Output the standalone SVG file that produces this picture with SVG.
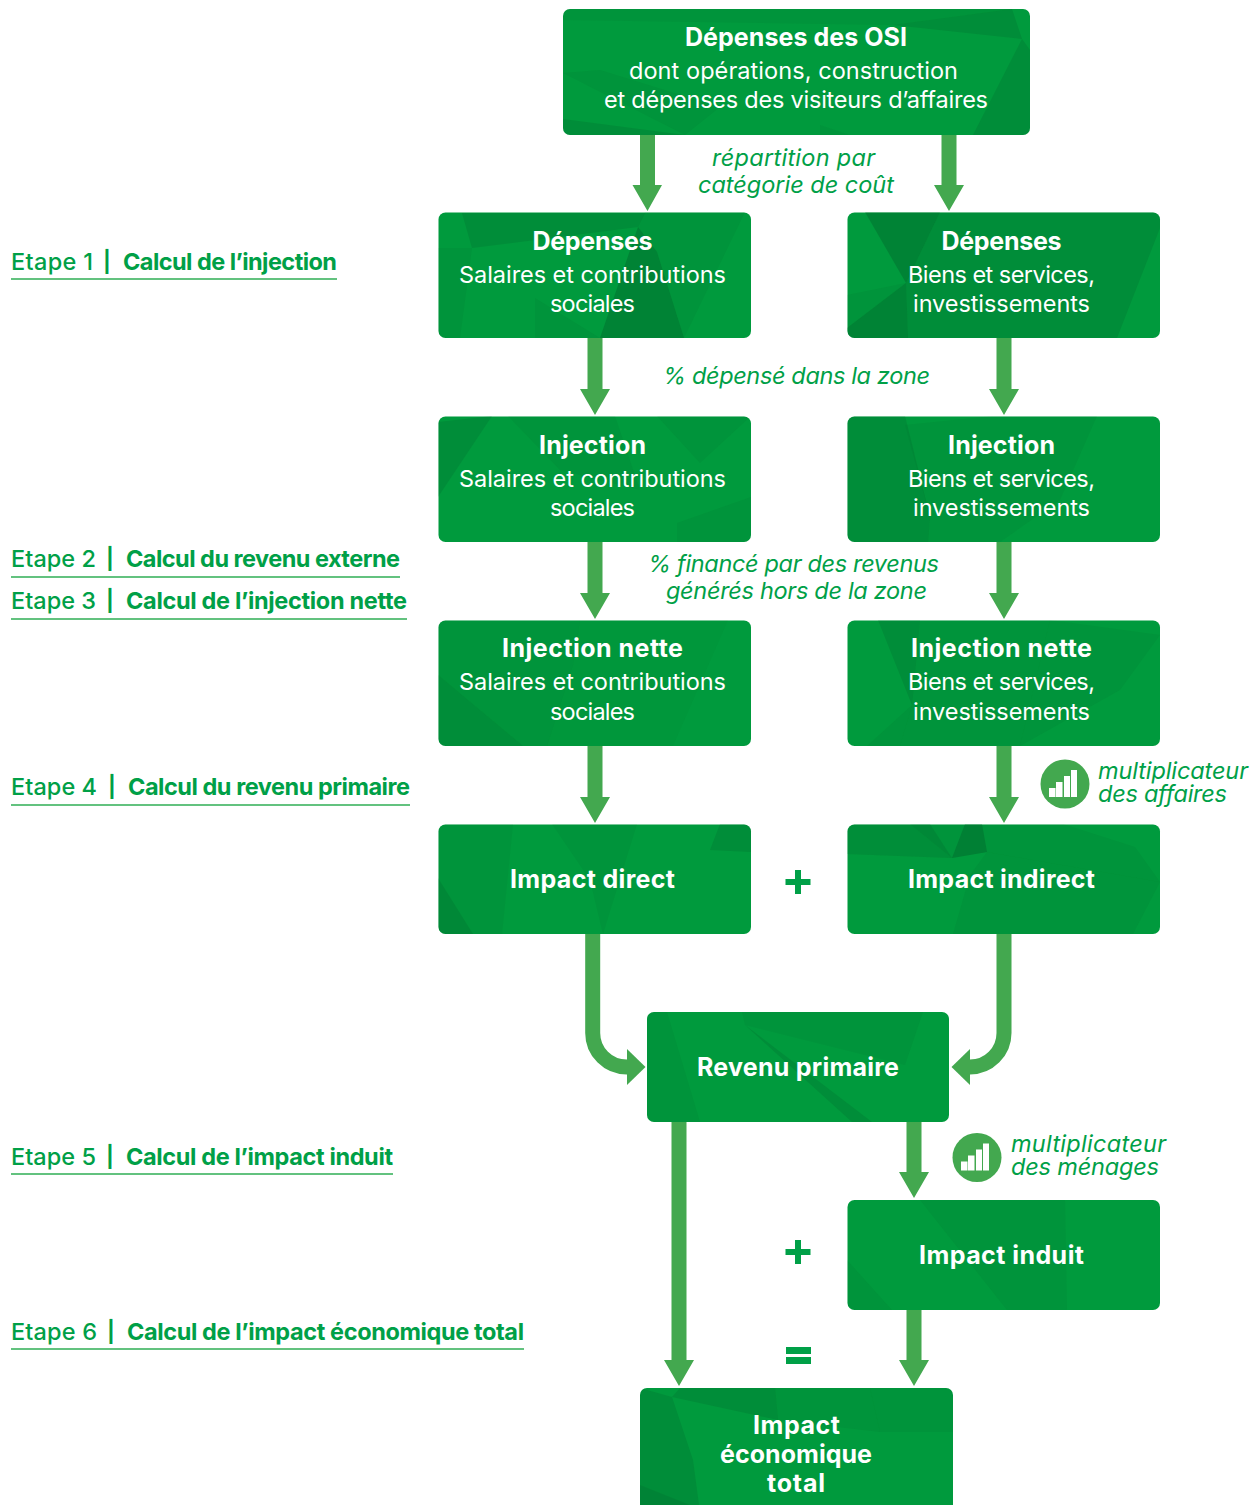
<svg xmlns="http://www.w3.org/2000/svg" width="1260" height="1505" viewBox="0 0 1260 1505">
<style>
text{font-family:Inter,"Liberation Sans",sans-serif}
.box{fill:#009a3d}
.f1{fill:#006b2e;opacity:.5}
.f2{fill:#006b2e;opacity:.28}
.f3{fill:#006b2e;opacity:.13}
.t{fill:#fff;font-weight:700;font-size:25px;text-anchor:middle}
.b{fill:#fff;font-weight:400;font-size:23.5px;text-anchor:middle}
.i{fill:#00a047;font-style:italic;font-weight:400;font-size:23.5px;text-anchor:middle}
.m{fill:#00a047;font-style:italic;font-weight:400;font-size:23.5px}
.s{fill:#00a047;font-weight:500;font-size:23.5px}
.c{fill:#00a047;font-weight:700;font-size:23.5px}
.p{fill:#00a047;font-weight:700;font-size:21px;text-anchor:middle}
.u{stroke:#2fae55;stroke-width:1.6;fill:none}
.a{fill:#43a84f}
.l{fill:none;stroke:#43a84f;stroke-width:15}
.op{fill:#00a047}
.bar{fill:#fff}
.ic{fill:#43a84f}
</style>
<defs>
<clipPath id="c0"><rect x="563" y="9" width="467" height="126" rx="7"/></clipPath>
<clipPath id="c1"><rect x="438.500" y="212.500" width="312.500" height="125.500" rx="7"/></clipPath>
<clipPath id="c2"><rect x="847.500" y="212.500" width="312.500" height="125.500" rx="7"/></clipPath>
<clipPath id="c3"><rect x="438.500" y="416.500" width="312.500" height="125.500" rx="7"/></clipPath>
<clipPath id="c4"><rect x="847.500" y="416.500" width="312.500" height="125.500" rx="7"/></clipPath>
<clipPath id="c5"><rect x="438.500" y="620.500" width="312.500" height="125.500" rx="7"/></clipPath>
<clipPath id="c6"><rect x="847.500" y="620.500" width="312.500" height="125.500" rx="7"/></clipPath>
<clipPath id="c7"><rect x="438.500" y="824.500" width="312.500" height="109.500" rx="7"/></clipPath>
<clipPath id="c8"><rect x="847.500" y="824.500" width="312.500" height="109.500" rx="7"/></clipPath>
<clipPath id="c9"><rect x="647" y="1012" width="302" height="110" rx="7"/></clipPath>
<clipPath id="c10"><rect x="847.500" y="1200" width="312.500" height="110" rx="7"/></clipPath>
<clipPath id="c11"><rect x="640" y="1388" width="313" height="130" rx="7"/></clipPath>
<g id="bars"><rect class="bar" x="1049" y="788" width="6.500" height="9"/><rect class="bar" x="1056" y="782" width="6.500" height="15"/><rect class="bar" x="1064" y="776" width="6" height="21"/><rect class="bar" x="1071" y="770" width="6" height="27"/></g>
</defs>

<g id="connectors">
<path class="a" d="M640 135h15v50h7l-14.500 26-15-26h7.500z"/>
<path class="a" d="M941.500 135h15v50h7.500l-15 26-15-26h7.500z"/>
<path class="a" d="M587.500 338h15v51h7.500l-15 26-15-26h7.500z"/>
<path class="a" d="M996.500 338h15v51h7.500l-15 26-15-26h7.500z"/>
<path class="a" d="M587.500 542h15v51h7.500l-15 26-15-26h7.500z"/>
<path class="a" d="M996.500 542h15v51h7.500l-15 26-15-26h7.500z"/>
<path class="a" d="M587.500 746h15v51h7.500l-15 26-15-26h7.500z"/>
<path class="a" d="M996.500 746h15v51h7.500l-15 26-15-26h7.500z"/>
<path class="l" d="M592.700 934V1033A34 34 0 0 0 626.700 1067H629"/>
<path class="a" d="M627 1049l18.500 18-18.500 18z"/>
<path class="l" d="M1004 934V1033A34 34 0 0 1 970 1067H968"/>
<path class="a" d="M970 1049l-18.500 18 18.500 18z"/>
<path class="a" d="M671.500 1122h15v238h7.500l-15 26-15-26h7.500z"/>
<path class="a" d="M906.500 1122h15v50h7.500l-15 26-15-26h7.500z"/>
<path class="a" d="M906.500 1310h15v50h7.500l-15 26-15-26h7.500z"/>
</g>

<g id="node-osi">
<rect class="box" x="563" y="9" width="467" height="126" rx="7"/>
<g clip-path="url(#c0)">
<polygon class="f2" points="1012,9 1022,39 893,25"/>
<polygon class="f2" points="1022,39 1030,50 1030,135 973,135"/>
<polygon class="f2" points="563,119 685,135 563,135"/>
<polygon class="f3" points="563,73 685,135 720,107 600,70"/>
<polygon class="f3" points="820,125 850,135 820,135"/>
<polygon class="f3" points="563,9 1012,9 893,25 563,20"/>
</g>
<text class="t" x="796" y="46" textLength="222">Dépenses des OSI</text>
<text class="b" x="793.500" y="78.500" textLength="329">dont opérations, construction</text>
<text class="b" x="796" y="107.500" textLength="384">et dépenses des visiteurs d’affaires</text>
</g>

<g id="node-dep-sal">
<rect class="box" x="438.500" y="212.500" width="312.500" height="125.500" rx="7"/>
<g clip-path="url(#c1)">
<polygon class="f2" points="472,248 638,227 645,213 462,213"/>
<polygon class="f1" points="638,227 600,338 684,338 657,252"/>
<polygon class="f3" points="645,212 745,212 684,338 657,252 638,227"/>
<polygon class="f3" points="535,298 600,338 535,338"/>
<polygon class="f3" points="438,248 472,248 460,338 438,338"/>
</g>
<text class="t" x="592.500" y="250" textLength="120">Dépenses</text>
<text class="b" x="592.500" y="282.500" textLength="267">Salaires et contributions</text>
<text class="b" x="592.500" y="311.500" textLength="85">sociales</text>
</g>

<g id="node-dep-bs">
<rect class="box" x="847.500" y="212.500" width="312.500" height="125.500" rx="7"/>
<g clip-path="url(#c2)">
<polygon class="f1" points="865,212 906,283 940,212"/>
<polygon class="f2" points="940,212 906,283 908,338 1117,338 1160,228 1160,212"/>
<polygon class="f1" points="847,328 906,283 908,338 847,338"/>
<polygon class="f3" points="847,295 906,283 847,328"/>
</g>
<text class="t" x="1001.500" y="250" textLength="120">Dépenses</text>
<text class="b" x="1001.500" y="282.500" textLength="187">Biens et services,</text>
<text class="b" x="1001.500" y="311.500" textLength="177">investissements</text>
</g>

<g id="node-inj-sal">
<rect class="box" x="438.500" y="416.500" width="312.500" height="125.500" rx="7"/>
<g clip-path="url(#c3)">
<polygon class="f2" points="438,422 492,416 438,497"/>
<polygon class="f3" points="508,416 615,416 640,490 560,470"/>
<polygon class="f3" points="657,416 700,463 751,416"/>
<polygon class="f3" points="677,542 677,523 751,497 751,542"/>
</g>
<text class="t" x="592.500" y="454" textLength="107">Injection</text>
<text class="b" x="592.500" y="486.500" textLength="267">Salaires et contributions</text>
<text class="b" x="592.500" y="515.500" textLength="85">sociales</text>
</g>

<g id="node-inj-bs">
<rect class="box" x="847.500" y="416.500" width="312.500" height="125.500" rx="7"/>
<g clip-path="url(#c4)">
<polygon class="f2" points="847,416 905,416 930,517 928,542 847,542"/>
<polygon class="f3" points="905,425 993,416 1097,416 1060,500 1000,542 928,542 930,517"/>
</g>
<text class="t" x="1001.500" y="454" textLength="107">Injection</text>
<text class="b" x="1001.500" y="486.500" textLength="187">Biens et services,</text>
<text class="b" x="1001.500" y="515.500" textLength="177">investissements</text>
</g>

<g id="node-net-sal">
<rect class="box" x="438.500" y="620.500" width="312.500" height="125.500" rx="7"/>
<g clip-path="url(#c5)">
<polygon class="f3" points="438,620 580,620 573,665 547,746 523,746 438,675"/>
<polygon class="f2" points="438,675 523,746 438,746"/>
<polygon class="f3" points="580,620 728,620 673,746 547,746 573,665" style="opacity:.07"/>
</g>
<text class="t" x="592.500" y="657" textLength="181">Injection nette</text>
<text class="b" x="592.500" y="689.500" textLength="267">Salaires et contributions</text>
<text class="b" x="592.500" y="719.500" textLength="85">sociales</text>
</g>

<g id="node-net-bs">
<rect class="box" x="847.500" y="620.500" width="312.500" height="125.500" rx="7"/>
<g clip-path="url(#c6)">
<polygon class="f2" points="878,620 920,620 912,705"/>
<polygon class="f3" points="920,620 1050,620 1020,746 900,746 912,705"/>
<polygon class="f3" points="867,746 912,705 900,746"/>
<polygon class="f3" points="1050,620 1160,635 1120,690 1020,746"/>
</g>
<text class="t" x="1001.500" y="657" textLength="181">Injection nette</text>
<text class="b" x="1001.500" y="689.500" textLength="187">Biens et services,</text>
<text class="b" x="1001.500" y="719.500" textLength="177">investissements</text>
</g>

<g id="node-direct">
<rect class="box" x="438.500" y="824.500" width="312.500" height="109.500" rx="7"/>
<g clip-path="url(#c7)">
<polygon class="f3" points="438,824 513,824 502,934 438,934"/>
<polygon class="f2" points="438,878 473,934 438,934"/>
<polygon class="f2" points="720,824 751,824 751,852 710,850"/>
<polygon class="f3" points="552,824 637,824 603,934 590,880"/>
</g>
<text class="t" x="592.500" y="888" textLength="165">Impact direct</text>
</g>

<g id="node-indirect">
<rect class="box" x="847.500" y="824.500" width="312.500" height="109.500" rx="7"/>
<g clip-path="url(#c8)">
<polygon class="f3" points="847,824 1063,824 1135,847 1160,882 987,852 952,858 847,854"/>
<polygon class="f1" points="965,824 982,824 987,852 952,858"/>
<polygon class="f2" points="910,824 930,824 952,858"/>
<polygon class="f3" points="847,824 910,824 952,858 847,854"/>
<polygon class="f3" points="987,852 1160,882 1133,934 953,934 970,875"/>
</g>
<text class="t" x="1001.500" y="888" textLength="187">Impact indirect</text>
</g>

<g id="node-revenu">
<rect class="box" x="647" y="1012" width="302" height="110" rx="7"/>
<g clip-path="url(#c9)">
<polygon class="f3" points="667,1012 700,1122 647,1122 647,1012"/>
<polygon class="f3" points="742,1012 923,1012 905,1065 745,1025"/>
<polygon class="f2" points="745,1025 872,1122 852,1122"/>
</g>
<text class="t" x="798" y="1076" textLength="202">Revenu primaire</text>
</g>

<g id="node-induit">
<rect class="box" x="847.500" y="1200" width="312.500" height="110" rx="7"/>
<g clip-path="url(#c10)">
<polygon class="f3" points="920,1200 1065,1200 1067,1310 1007,1310"/>
<polygon class="f3" points="847,1260 892,1310 847,1310"/>
</g>
<text class="t" x="1001.500" y="1264" textLength="165">Impact induit</text>
</g>

<g id="node-total">
<rect class="box" x="640" y="1388" width="313" height="130" rx="7"/>
<g clip-path="url(#c11)">
<polygon class="f2" points="640,1388 672,1397 693,1460 699,1505 640,1505"/>
<polygon class="f2" points="672,1397 680,1388 775,1388 778,1420"/>
<polygon class="f3" points="775,1388 870,1388 880,1432 778,1420"/>
<polygon class="f3" points="870,1388 953,1388 953,1432 880,1432"/>
<polygon class="f2" points="640,1485 690,1505 640,1505"/>
</g>
<text class="t" x="796.500" y="1434" textLength="87">Impact</text>
<text class="t" x="796" y="1463" textLength="152">économique</text>
<text class="t" x="796" y="1492" textLength="58">total</text>
</g>

<g id="ops">
<path class="op" d="M795 870h6v9h9.500v6h-9.500v9h-6v-9h-9.500v-6h9.500z"/>
<path class="op" d="M795 1240h6v9h9.500v6h-9.500v9h-6v-9h-9.500v-6h9.500z"/>
<rect class="op" x="786" y="1347" width="25" height="7"/>
<rect class="op" x="786" y="1357" width="25" height="7"/>
</g>

<g id="labels">
<text class="i" x="793.500" y="166" textLength="163">répartition par</text>
<text class="i" x="796" y="193" textLength="196">catégorie de coût</text>
<text class="i" x="796.500" y="384" textLength="267">% dépensé dans la zone</text>
<text class="i" x="793.500" y="572" textLength="291">% financé par des revenus</text>
<text class="i" x="796.500" y="599" textLength="261">générés hors de la zone</text>
<text class="m" x="1098" y="779" textLength="150">multiplicateur</text>
<text class="m" x="1098" y="802" textLength="129">des affaires</text>
<text class="m" x="1011" y="1152" textLength="155">multiplicateur</text>
<text class="m" x="1011" y="1175" textLength="148">des ménages</text>
</g>

<g id="icon-affaires"><circle class="ic" cx="1065" cy="784" r="24.500"/><use href="#bars"/></g>
<g id="icon-menages"><circle class="ic" cx="977" cy="1157.500" r="24.500"/><use href="#bars" x="-88" y="373.500"/></g>

<g id="etape-1">
<text class="s" x="11" y="270" textLength="82">Etape 1</text><text class="p" x="107" y="269">|</text><text class="c" x="123" y="270" textLength="214">Calcul de l’injection</text>
<path class="u" d="M11 279H337"/></g>
<g id="etape-2">
<text class="s" x="11" y="567" textLength="85">Etape 2</text><text class="p" x="110" y="566">|</text><text class="c" x="126" y="567" textLength="274">Calcul du revenu externe</text>
<path class="u" d="M11 577H400"/></g>
<g id="etape-3">
<text class="s" x="11" y="609" textLength="85">Etape 3</text><text class="p" x="110" y="608">|</text><text class="c" x="126" y="609" textLength="281">Calcul de l’injection nette</text>
<path class="u" d="M11 619H407"/></g>
<g id="etape-4">
<text class="s" x="11" y="795" textLength="86">Etape 4</text><text class="p" x="112" y="794">|</text><text class="c" x="128" y="795" textLength="282">Calcul du revenu primaire</text>
<path class="u" d="M11 805H410"/></g>
<g id="etape-5">
<text class="s" x="11" y="1165" textLength="85">Etape 5</text><text class="p" x="110" y="1164">|</text><text class="c" x="126" y="1165" textLength="267">Calcul de l’impact induit</text>
<path class="u" d="M11 1174H393"/></g>
<g id="etape-6">
<text class="s" x="11" y="1340" textLength="86">Etape 6</text><text class="p" x="111" y="1339">|</text><text class="c" x="127" y="1340" textLength="397">Calcul de l’impact économique total</text>
<path class="u" d="M11 1349H524"/></g>
</svg>
